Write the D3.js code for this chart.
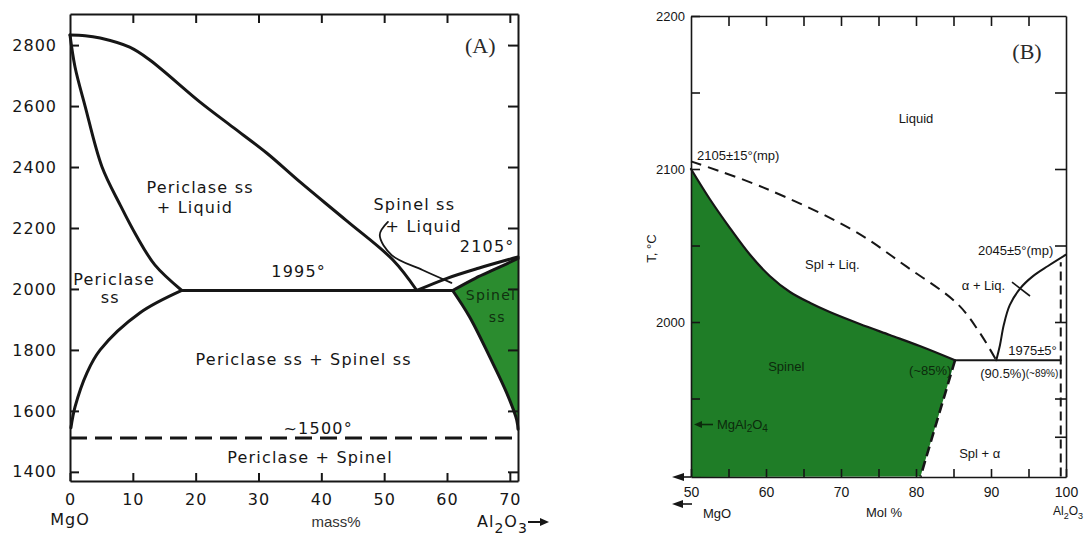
<!DOCTYPE html>
<html><head><meta charset="utf-8">
<script src="https://cdn.jsdelivr.net/npm/d3@7"></script>
<style>body{margin:0;background:#fff}</style>
</head><body>
<svg id="c" width="1085" height="541"></svg>
<script>
// ================= Panel A : MgO - Al2O3 (mass%) =================
const aXTicks = [0,10,20,30,40,50,60,70];
const aYTicks = [1400,1600,1800,2000,2200,2400,2600,2800];
const aPericlaseLiquidus = [[0,2833],[2.4,2831],[4.8,2823],[9.5,2793],[12.7,2751],[20.7,2613],[25.9,2531],[31.3,2446],[36.6,2351],[44,2224],[51.4,2095],[55.2,1995]];
const aPericlaseSolidus  = [[0,2833],[0.8,2728],[2.4,2600],[5.1,2400],[8.0,2275],[10.5,2177],[13.5,2079],[17.8,1995]];
const aPericlaseSolvus   = [[17.8,1995],[11.1,1921],[4.8,1800],[2.7,1725],[0.8,1613],[0.15,1545]];
const aSpinelLiquidus    = [[55.2,1995],[60,2035],[65,2068],[71.3,2105]];
const aSpinelSolidus     = [[60.9,1995],[64.5,2035],[68,2068],[71.3,2100]];
const aSpinelSolvus      = [[60.9,1995],[63.6,1908],[66.8,1777],[69.5,1659],[71.1,1570],[71.3,1540]];
const aEutectic          = [[17.8,1995],[60.9,1995]];
const aOrderLine         = [[0,1511],[71.3,1511]];
const aLeader            = [[50.6,2220],[49.3,2177],[51.2,2111],[56.1,2062],[60.7,2020]];
const aLabels = [
  {t:"Periclase ss", x:20.7, T:2315},
  {t:"+ Liquid", x:19.9, T:2249},
  {t:"Spinel ss", x:54.8, T:2259},
  {t:"+ Liquid", x:56.3, T:2187},
  {t:"2105°", x:66.4, T:2121},
  {t:"Periclase", x:0.5, T:2013, a:"start"},
  {t:"ss", x:6.4, T:1954},
  {t:"1995°", x:36.4, T:2039},
  {t:"Periclase ss + Spinel ss", x:37.2, T:1751},
  {t:"~1500°", x:39.5, T:1524},
  {t:"Periclase + Spinel", x:38.2, T:1429},
  {t:"Spinel", x:67.0, T:1964, c:"#10300f", s:14},
  {t:"ss", x:68.0, T:1892, c:"#10300f", s:14}
];

// ================= Panel B : MgAl2O4 - Al2O3 (mol%) =================
const bXTicks = [50,55,60,65,70,75,80,85,90,95,100];
const bXLabels = [50,60,70,80,90,100];
const bYTicks = [2200,2150,2100,2050,2000,1950];
const bYLabels = [2200,2100,2000];
const bRightTicks = [2150,2100,2050,2000,1950,1925];
const bSpinelLiquidus = [[50,2105],[59.6,2088],[71.6,2060],[78.8,2036],[85.5,2012],[88.5,1993],[90.7,1975]];
const bSpinelSolidus  = [[50,2100],[52.5,2080.4],[55.2,2061.4],[57.9,2043.8],[60.5,2030.1],[63.2,2019.6],[65.9,2012.4],[68.5,2006.5],[72.5,1998.7],[76.5,1991.5],[80.5,1984.3],[85.2,1975]];
const bSpinelSolvus   = [[85.2,1975],[80.6,1899]];
const bEutectic       = [[85.2,1975],[99.3,1975]];
const bCorundumLiquidus = [[90.7,1975],[91.2,1985],[91.7,1998],[92.5,2011],[93.9,2022],[95.6,2030],[97.6,2036.6],[100,2044]];
const bCorundumSolvus = [[99.3,1899],[99.3,2039]];
const bLabels = [
  {t:"2105±15°(mp)", x:50.8, T:2105.9, a:"start"},
  {t:"Liquid", x:80, T:2130},
  {t:"Spl + Liq.", x:65.2, T:2034.6, a:"start"},
  {t:"α + Liq.", x:86.1, T:2020.9, a:"start"},
  {t:"2045±5°(mp)", x:98.3, T:2043.8, a:"end"},
  {t:"Spinel", x:62.7, T:1968, c:"#0c2a0c"},
  {t:"(~85%)", x:81.9, T:1965.4, c:"#0c2a0c"},
  {t:"1975±5°", x:92.3, T:1978.4, a:"start"},
  {t:"(90.5%)", x:91.6, T:1963.4},
  {t:"(~89%)", x:96.8, T:1964, s:10},
  {t:"Spl + α", x:88.5, T:1911}
];

// ------------------------------------------------------------------
const svg = d3.select('#c');
const ink = '#161616';
const fontA = "'DejaVu Sans', sans-serif";
const fontB = "'Liberation Sans', Arial, sans-serif";
const fontSerif = "'Liberation Serif', 'DejaVu Serif', serif";

function mkLine(sx, sy, curve){ return d3.line().x(d=>sx(d[0])).y(d=>sy(d[1])).curve(curve||d3.curveLinear); }
function draw(g, data, sx, sy, o){
  o = o||{};
  return g.append('path').attr('d', mkLine(sx,sy,o.curve)(data))
    .attr('fill','none').attr('stroke', o.color||ink).attr('stroke-width', o.w||3)
    .attr('stroke-dasharray', o.dash||null).attr('stroke-linecap', o.cap||'round').attr('stroke-linejoin','round');
}
const smooth = d3.curveCatmullRom.alpha(0.5);

// ================= Panel A =================
const ax = d3.scaleLinear().domain([0,71.3]).range([70,518]);
const ay = d3.scaleLinear().domain([1370,2902]).range([481,14]);
const gA = svg.append('g');

{
  const l = mkLine(ax, ay, smooth);
  const p1 = l(aSpinelSolvus);
  const p2 = l(aSpinelSolidus.slice().reverse()).replace(/^M/,'L');
  gA.append('path').attr('d', p1 + 'L' + ax(71.3) + ',' + ay(2100) + p2 + 'Z').attr('fill','#2b8c2f');
}

function styleAxis(sel, font, size, ls){
  sel.selectAll('path.domain').attr('stroke', ink).attr('stroke-width', 2);
  sel.selectAll('.tick line').attr('stroke', ink).attr('stroke-width', 2);
  sel.selectAll('.tick text').attr('fill', ink).attr('font-family', font).attr('font-size', size).attr('letter-spacing', ls||0);
}
const fmt = d3.format('d');
const aLeft = gA.append('g').attr('transform',`translate(${ax(0)},0)`)
  .call(d3.axisLeft(ay).tickValues(aYTicks).tickFormat(fmt).tickSizeInner(-9).tickSizeOuter(0).tickPadding(13));
styleAxis(aLeft, fontA, 16, 1);
const aBottom = gA.append('g').attr('transform',`translate(0,${ay(1370)})`)
  .call(d3.axisBottom(ax).tickValues(aXTicks).tickFormat(fmt).tickSizeInner(-8).tickSizeOuter(0).tickPadding(13));
styleAxis(aBottom, fontA, 16, 1);
const aTop = gA.append('g').attr('transform',`translate(0,${ay(2902)})`)
  .call(d3.axisTop(ax).tickValues(aXTicks.slice(1)).tickSizeInner(-9).tickSizeOuter(0).tickFormat(''));
styleAxis(aTop, fontA, 16);
const aRight = gA.append('g').attr('transform',`translate(${ax(71.3)},0)`)
  .call(d3.axisRight(ay).tickValues(aYTicks).tickSizeInner(-10).tickSizeOuter(0).tickFormat(''));
styleAxis(aRight, fontA, 16);

draw(gA, aPericlaseLiquidus, ax, ay, {curve:smooth, w:3});
draw(gA, aPericlaseSolidus, ax, ay, {curve:smooth, w:3});
draw(gA, aPericlaseSolvus, ax, ay, {curve:smooth, w:3});
draw(gA, aEutectic, ax, ay, {w:3});
draw(gA, [[55.2,1995],[60.9,1995]], ax, ay, {w:3});
draw(gA, aSpinelLiquidus, ax, ay, {curve:smooth, w:3});
draw(gA, aSpinelSolidus, ax, ay, {curve:smooth, w:3});
draw(gA, aSpinelSolvus, ax, ay, {curve:smooth, w:3});
draw(gA, aOrderLine, ax, ay, {w:3, dash:'17 8', cap:'butt'});
draw(gA, aLeader, ax, ay, {curve:smooth, w:1.8});

aLabels.forEach(d=>{
  gA.append('text').attr('x', ax(d.x)).attr('y', ay(d.T)).text(d.t)
    .attr('text-anchor', d.a||'middle').attr('font-family', fontA).attr('font-size', d.s||16)
    .attr('letter-spacing', 1.2).attr('fill', d.c||ink);
});
gA.append('text').attr('x', ax(65.3)).attr('y', ay(2774)).text('(A)')
  .attr('text-anchor','middle').attr('font-family', fontSerif).attr('font-size', 22).attr('fill', '#2a2a2a');
gA.append('text').attr('x', ax(0)).attr('y', 525).text('MgO')
  .attr('text-anchor','middle').attr('font-family', fontA).attr('font-size', 16).attr('letter-spacing',1).attr('fill', ink);
gA.append('text').attr('x', (ax(0)+ax(71.3))/2 + 42).attr('y', 527).text('mass%')
  .attr('text-anchor','middle').attr('font-family', fontB).attr('font-size', 15).attr('fill', '#333');
{
  const t = gA.append('text').attr('x', 477).attr('y', 527).attr('font-family', fontA).attr('font-size', 16).attr('fill', ink).attr('letter-spacing',1);
  t.append('tspan').text('Al');
  t.append('tspan').text('2').attr('dy', 6).attr('font-size', 14);
  t.append('tspan').text('O').attr('dy', -6);
  t.append('tspan').text('3').attr('dy', 6).attr('font-size', 14);
  gA.append('line').attr('x1', 528).attr('x2', 545).attr('y1', 522).attr('y2', 522).attr('stroke', ink).attr('stroke-width', 2);
  gA.append('path').attr('d', 'M549,522 L540,518 L540,526 Z').attr('fill', ink);
}

// ================= Panel B =================
const bx = d3.scaleLinear().domain([50,100]).range([691,1066]);
const by = d3.scaleLinear().domain([1898.7,2200]).range([477,16]);
const gB = svg.append('g');

{
  const l = mkLine(bx, by, smooth);
  const top = l(bSpinelSolidus);
  gB.append('path').attr('d', top + 'L' + bx(bSpinelSolvus[1][0]) + ',' + by(bSpinelSolvus[1][1]) + 'L' + bx(50) + ',' + by(1898.7) + 'Z')
    .attr('fill', '#1f7d27');
}

function styleAxisB(sel){
  sel.selectAll('path.domain').attr('stroke', ink).attr('stroke-width', 1.6);
  sel.selectAll('.tick line').attr('stroke', ink).attr('stroke-width', 1.6);
  sel.selectAll('.tick text').attr('fill', ink).attr('font-family', fontB).attr('font-size', 13);
}
const bLeft = gB.append('g').attr('transform',`translate(${bx(50)},0)`)
  .call(d3.axisLeft(by).tickValues(bYTicks).tickSizeInner(-9).tickSizeOuter(0).tickPadding(6)
    .tickFormat(v => bYLabels.includes(v) ? String(v) : ''));
styleAxisB(bLeft);
const bBottom = gB.append('g').attr('transform',`translate(0,${by(1898.7)})`)
  .call(d3.axisBottom(bx).tickValues(bXTicks).tickSizeInner(-8).tickSizeOuter(0).tickPadding(10)
    .tickFormat(v => bXLabels.includes(v) ? String(v) : ''));
styleAxisB(bBottom);
bBottom.selectAll('.tick text').attr('font-size', 14);
const bTop = gB.append('g').attr('transform',`translate(0,${by(2200)})`)
  .call(d3.axisTop(bx).tickValues(bXTicks.slice(1,-1)).tickSizeInner(-10).tickSizeOuter(0).tickFormat(''));
styleAxisB(bTop);
const bRight = gB.append('g').attr('transform',`translate(${bx(100)},0)`)
  .call(d3.axisRight(by).tickValues(bRightTicks).tickSizeInner(-11).tickSizeOuter(0).tickFormat(''));
styleAxisB(bRight);

draw(gB, bSpinelLiquidus, bx, by, {curve:smooth, w:2, dash:'11 7', cap:'butt'});
draw(gB, bSpinelSolidus, bx, by, {curve:smooth, w:2.2});
draw(gB, bSpinelSolvus, bx, by, {w:2.6, dash:'10 5', cap:'butt'});
draw(gB, bEutectic, bx, by, {w:2});
draw(gB, bCorundumLiquidus, bx, by, {curve:smooth, w:2});
draw(gB, bCorundumSolvus, bx, by, {w:2, dash:'9 5', cap:'butt'});
gB.append('line').attr('x1', bx(92.8)).attr('y1', by(2026)).attr('x2', bx(95.2)).attr('y2', by(2017))
  .attr('stroke', ink).attr('stroke-width', 1.6);

bLabels.forEach(d=>{
  gB.append('text').attr('x', bx(d.x)).attr('y', by(d.T)).text(d.t)
    .attr('text-anchor', d.a||'middle').attr('font-family', fontB).attr('font-size', d.s||13).attr('fill', d.c||ink);
});
gB.append('text').attr('x', bx(94.8)).attr('y', by(2172)).text('(B)')
  .attr('text-anchor','middle').attr('font-family', fontSerif).attr('font-size', 22).attr('fill', '#2a2a2a');
{
  const yy = by(1933);
  gB.append('line').attr('x1', bx(50)+8).attr('x2', bx(50)+22).attr('y1', yy).attr('y2', yy).attr('stroke', '#0c2a0c').attr('stroke-width', 1.6);
  gB.append('path').attr('d', `M${bx(50)+3},${yy} L${bx(50)+11},${yy-3.5} L${bx(50)+11},${yy+3.5} Z`).attr('fill', '#0c2a0c');
  const t = gB.append('text').attr('x', bx(50)+26).attr('y', yy+4.5).attr('font-family', fontB).attr('font-size', 13).attr('fill', '#0c2a0c');
  t.append('tspan').text('MgAl');
  t.append('tspan').text('2').attr('dy', 3).attr('font-size', 10);
  t.append('tspan').text('O').attr('dy', -3);
  t.append('tspan').text('4').attr('dy', 3).attr('font-size', 10);
}
gB.append('text').attr('transform', `translate(656,${by(2048)}) rotate(-90)`).text('T, °C')
  .attr('text-anchor','middle').attr('font-family', fontB).attr('font-size', 13).attr('fill', ink);
{
  const y0 = by(1898.7);
  gB.append('line').attr('x1', 676).attr('x2', bx(50)).attr('y1', y0).attr('y2', y0).attr('stroke', ink).attr('stroke-width', 1.6);
  gB.append('path').attr('d', `M672,${y0} L684,${y0-4} L684,${y0+4} Z`).attr('fill', ink);
  gB.append('line').attr('x1', 676).attr('x2', 692).attr('y1', 504).attr('y2', 504).attr('stroke', ink).attr('stroke-width', 1.6);
  gB.append('path').attr('d', `M672,504 L683,500 L683,508 Z`).attr('fill', ink);
}
gB.append('text').attr('x', 703).attr('y', 518).text('MgO').attr('font-family', fontB).attr('font-size', 13).attr('fill', ink);
gB.append('text').attr('x', 884).attr('y', 517).text('Mol %').attr('text-anchor','middle').attr('font-family', fontB).attr('font-size', 13).attr('fill', ink);
{
  const t = gB.append('text').attr('x', 1053).attr('y', 515).attr('font-family', fontB).attr('font-size', 12).attr('fill', ink);
  t.append('tspan').text('Al');
  t.append('tspan').text('2').attr('dy', 4).attr('font-size', 9);
  t.append('tspan').text('O').attr('dy', -4);
  t.append('tspan').text('3').attr('dy', 4).attr('font-size', 9);
}
</script>
</body></html>
